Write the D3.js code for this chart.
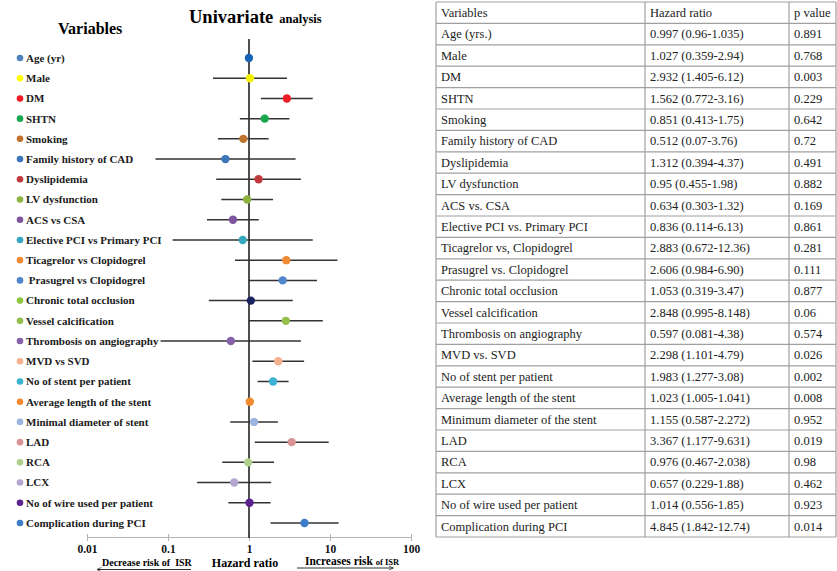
<!DOCTYPE html>
<html>
<head>
<meta charset="utf-8">
<script src="https://cdn.jsdelivr.net/npm/d3@7"></script>
<style>
  body { margin: 0; background: #fff; }
  svg { display: block; font-family: "Liberation Serif", "Times New Roman", serif; }
</style>
</head>
<body>
<div id="chart"></div>
<script>
// labels used in the forest plot
var plotLabels = ['Age (yr)', 'Male', 'DM', 'SHTN', 'Smoking', 'Family history of CAD', 'Dyslipidemia',
  'LV dysfunction', 'ACS vs CSA', 'Elective PCI vs Primary PCI', 'Ticagrelor vs Clopidogrel',
  ' Prasugrel vs Clopidogrel', 'Chronic total occlusion', 'Vessel calcification', 'Thrombosis on angiography',
  'MVD vs SVD', 'No of stent per patient', 'Average length of the stent', 'Minimal diameter of stent',
  'LAD', 'RCA', 'LCX', 'No of wire used per patient', 'Complication during PCI'];

// labels used in the table
var tableLabels = ['Age (yrs.)', 'Male', 'DM', 'SHTN', 'Smoking', 'Family history of CAD', 'Dyslipidemia',
  'LV dysfunction', 'ACS vs. CSA', 'Elective PCI vs. Primary PCI', 'Ticagrelor vs, Clopidogrel',
  'Prasugrel vs. Clopidogrel', 'Chronic total occlusion', 'Vessel calcification', 'Thrombosis on angiography',
  'MVD vs. SVD', 'No of stent per patient', 'Average length of the stent', 'Minimum diameter of the stent',
  'LAD', 'RCA', 'LCX', 'No of wire used per patient', 'Complication during PCI'];

var hazard = ['0.997', '1.027', '2.932', '1.562', '0.851', '0.512', '1.312', '0.95', '0.634', '0.836',
  '2.883', '2.606', '1.053', '2.848', '0.597', '2.298', '1.983', '1.023', '1.155', '3.367', '0.976',
  '0.657', '1.014', '4.845'];
var ciLow = ['0.96', '0.359', '1.405', '0.772', '0.413', '0.07', '0.394', '0.455', '0.303', '0.114',
  '0.672', '0.984', '0.319', '0.995', '0.081', '1.101', '1.277', '1.005', '0.587', '1.177', '0.467',
  '0.229', '0.556', '1.842'];
var ciHigh = ['1.035', '2.94', '6.12', '3.16', '1.75', '3.76', '4.37', '1.98', '1.32', '6.13',
  '12.36', '6.90', '3.47', '8.148', '4.38', '4.79', '3.08', '1.041', '2.272', '9.631', '2.038',
  '1.88', '1.85', '12.74'];
var pValues = ['0.891', '0.768', '0.003', '0.229', '0.642', '0.72', '0.491', '0.882', '0.169', '0.861',
  '0.281', '0.111', '0.877', '0.06', '0.574', '0.026', '0.002', '0.008', '0.952', '0.019', '0.98',
  '0.462', '0.923', '0.014'];

var labelColors = ['#4f81bd', '#ffff00', '#ee1c24', '#19a74e', '#c0722f', '#3e74b8', '#c0393b', '#8db33f',
  '#7d55a0', '#35a8c0', '#ef8a35', '#4f86cc', '#8dc63f', '#94bf4a', '#8461a8', '#f7b08e', '#3cb2d2',
  '#f28a30', '#9db3e0', '#d99394', '#b0d08e', '#b4a6d0', '#5b2191', '#3d7cc9'];
var markerColors = ['#1763b5', '#f5f000', '#ee1c24', '#19a74e', '#c0722f', '#3e74b8', '#c0393b', '#8db33f',
  '#7d55a0', '#35a8c0', '#ef8a35', '#4f86cc', '#1a2060', '#94bf4a', '#8461a8', '#f7b08e', '#3cb2d2',
  '#f28a30', '#9db3e0', '#d99394', '#b0d08e', '#b4a6d0', '#5b2191', '#3d7cc9'];

var tickValues = [0.01, 0.1, 1, 10, 100];
var tickLabels = ['0.01', '0.1', '1', '10', '100'];
var tableHeader = ['Variables', 'Hazard ratio', 'p value'];

var rows = plotLabels.map(function(d, i) {
  return {label: d, tlabel: tableLabels[i], hr: +hazard[i], lo: +ciLow[i], hi: +ciHigh[i],
    hrText: hazard[i] + ' (' + ciLow[i] + '-' + ciHigh[i] + ')', p: pValues[i],
    c1: labelColors[i], c2: markerColors[i]};
});

var svg = d3.select('#chart').append('svg')
  .attr('width', 837)
  .attr('height', 571);

/**********************
 Forest plot
**********************/
var x = d3.scaleLog().domain([0.01, 100]).range([87, 411]);
var y = d3.scalePoint().domain(plotLabels).range([58, 523]);
var axisY = 537;

svg.append('text').attr('x', 58).attr('y', 34)
  .style('font-size', '16px').style('font-weight', 'bold').text('Variables');
var title = svg.append('text').attr('x', 189).attr('y', 23).style('font-weight', 'bold');
title.append('tspan').style('font-size', '18.5px').text('Univariate');
title.append('tspan').attr('dx', 6).style('font-size', '12.5px').text('analysis');

// axis
var axisG = svg.append('g')
  .attr('transform', 'translate(0,' + axisY + ')')
  .call(d3.axisBottom(x).tickValues(tickValues)
    .tickFormat(function(d, i) { return tickLabels[i]; })
    .tickSize(4));
axisG.select('.domain').attr('stroke', '#b5b5b5');
axisG.selectAll('.tick line').attr('stroke', '#b5b5b5').attr('y1', -3);
axisG.selectAll('.tick text')
  .attr('y', 16).attr('dy', 0)
  .style('font-family', '"Liberation Serif", serif')
  .style('font-size', '11.5px').style('font-weight', 'bold').attr('fill', '#111');

// reference line at 1
svg.append('line')
  .attr('x1', x(1)).attr('x2', x(1))
  .attr('y1', 39).attr('y2', axisY + 1)
  .attr('stroke', '#222').attr('stroke-width', 1.6);

var rowG = svg.selectAll('.row')
  .data(rows)
  .enter()
  .append('g')
  .attr('class', 'row');

rowG.append('circle')
  .attr('cx', 20).attr('cy', function(d) { return y(d.label); })
  .attr('r', 3.3)
  .attr('fill', function(d) { return d.c1; });

rowG.append('text')
  .attr('x', 26).attr('y', function(d) { return y(d.label); })
  .attr('dy', '0.35em')
  .style('font-size', '11px').style('font-weight', 'bold')
  .style('white-space', 'pre')
  .attr('fill', '#1a1a1a')
  .text(function(d) { return d.label; });

rowG.append('line')
  .attr('x1', function(d) { return x(d.lo); })
  .attr('x2', function(d) { return x(d.hi); })
  .attr('y1', function(d) { return y(d.label); })
  .attr('y2', function(d) { return y(d.label); })
  .attr('stroke', '#333').attr('stroke-width', 1.5);

rowG.append('circle')
  .attr('cx', function(d) { return x(d.hr); })
  .attr('cy', function(d) { return y(d.label); })
  .attr('r', 4.2)
  .attr('fill', function(d) { return d.c2; });

// bottom captions and arrows
svg.append('defs').append('marker')
  .attr('id', 'arrow').attr('viewBox', '0 0 10 10')
  .attr('refX', 9).attr('refY', 5)
  .attr('markerWidth', 5).attr('markerHeight', 5)
  .attr('orient', 'auto-start-reverse')
  .append('path').attr('d', 'M0,1L10,5L0,9').attr('fill', 'none').attr('stroke', '#333').attr('stroke-width', 1.5);

svg.append('text').attr('x', 102).attr('y', 566)
  .style('font-size', '10px').style('font-weight', 'bold').style('white-space', 'pre')
  .text('Decrease risk of  ISR');
svg.append('line').attr('x1', 97).attr('x2', 191).attr('y1', 569.5).attr('y2', 569.5)
  .attr('stroke', '#333').attr('stroke-width', 1).attr('marker-start', 'url(#arrow)');

svg.append('text').attr('x', 245).attr('y', 567).attr('text-anchor', 'middle')
  .style('font-size', '12px').style('font-weight', 'bold').text('Hazard ratio');

var inc = svg.append('text').attr('x', 305).attr('y', 565).style('font-weight', 'bold');
inc.append('tspan').style('font-size', '11.5px').text('Increases risk ');
inc.append('tspan').style('font-size', '8.5px').text('of ISR');
svg.append('line').attr('x1', 297).attr('x2', 393).attr('y1', 568).attr('y2', 568)
  .attr('stroke', '#333').attr('stroke-width', 1).attr('marker-end', 'url(#arrow)');

/**********************
 Table
**********************/
var colX = [436, 645, 789, 836];
var ty = d3.scaleBand().domain(['header'].concat(tableLabels)).range([2, 537]);
var tableG = svg.append('g').attr('class', 'table');

var tableRows = [tableHeader].concat(rows.map(function(d) { return [d.tlabel, d.hrText, d.p]; }));

// horizontal lines
tableG.selectAll('.hline')
  .data(d3.range(tableRows.length + 1))
  .enter().append('line')
  .attr('x1', colX[0]).attr('x2', colX[3])
  .attr('y1', function(i) { return ty.range()[0] + i * ty.step(); })
  .attr('y2', function(i) { return ty.range()[0] + i * ty.step(); })
  .attr('stroke', '#a0a0a0').attr('stroke-width', 1.2);

// vertical lines
tableG.selectAll('.vline')
  .data(colX)
  .enter().append('line')
  .attr('x1', function(d) { return d; }).attr('x2', function(d) { return d; })
  .attr('y1', 2).attr('y2', 537)
  .attr('stroke', '#a0a0a0').attr('stroke-width', 1.2);

var trow = tableG.selectAll('.trow')
  .data(tableRows)
  .enter().append('g')
  .attr('transform', function(d, i) { return 'translate(0,' + (ty.range()[0] + (i + 0.5) * ty.step()) + ')'; });

trow.selectAll('text')
  .data(function(d) { return d; })
  .enter().append('text')
  .attr('x', function(d, i) { return colX[i] + 5; })
  .attr('dy', '0.35em')
  .style('font-size', '12.5px')
  .attr('fill', '#222')
  .text(function(d) { return d; });
</script>
</body>
</html>
